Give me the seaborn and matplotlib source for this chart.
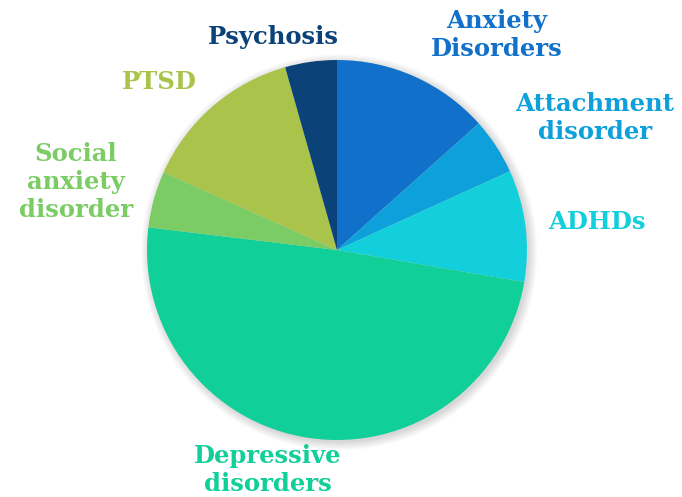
import matplotlib.pyplot as plt
import matplotlib.patches as mpatches
import seaborn as sns

labels = ["Anxiety\nDisorders", "Attachment\ndisorder", "ADHDs", "Depressive\ndisorders",
          "Social\nanxiety\ndisorder", "PTSD", "Psychosis"]
shares = [13.4, 4.8, 9.5, 49.2, 4.8, 13.9, 4.4]
colors = ["#1170C9", "#0EA0DA", "#12CFDB", "#11CF98", "#7CCC66", "#A9C34B", "#0B4277"]

sns.set_theme(style="white")
plt.rcParams['font.family'] = ['DejaVu Serif']

fig = plt.figure(figsize=(6.82, 4.97), dpi=100)
ax = fig.add_axes([0, 0, 1, 1])
R = 190.0
cx, cy = 337, 250

# soft shadow behind the pie
for i in range(8):
    ax.add_patch(mpatches.Circle((0.012, -0.012), 1 + 0.006 * i, color="black",
                                 alpha=0.02, lw=0, zorder=0))

wedges, texts = ax.pie(shares, colors=colors, startangle=90, counterclock=False,
                       labels=labels, radius=1, frame=True,
                       wedgeprops=dict(linewidth=0, zorder=2),
                       textprops=dict(fontsize=17.5, fontweight="bold", ha="center", va="center",
                                      linespacing=1.2))
ax.set_xlim(-cx / R, (682 - cx) / R)
ax.set_ylim(-(497 - cy) / R, cy / R)
ax.set_aspect("auto")
ax.set_axis_off()

# label placement (pixel centres)
pos = [(497, 35), (595, 118), (597, 222), (268, 470), (76, 182), (159, 82), (273, 37)]
for t, c, (px, py) in zip(texts, colors, pos):
    t.set_position(((px - cx) / R, (cy - py) / R))
    t.set_color(c)
    t.set_ha("center")
    t.set_va("center")
    t.set_multialignment("center")

fig.savefig("out.png", dpi=100)
